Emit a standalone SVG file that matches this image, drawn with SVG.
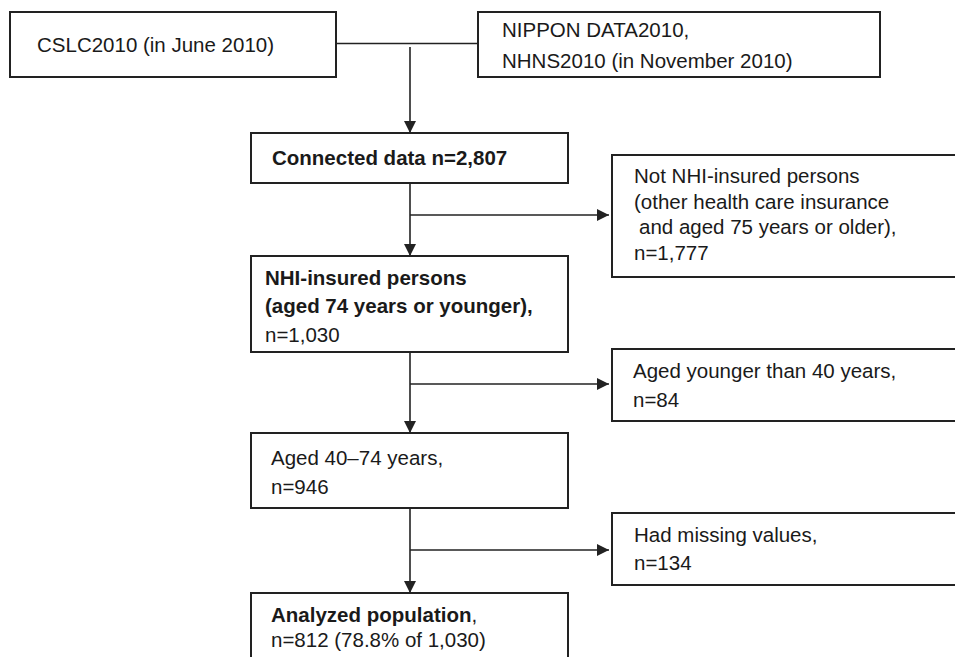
<svg xmlns="http://www.w3.org/2000/svg" width="955" height="657" viewBox="0 0 955 657">
<style>
.box{fill:#fff;stroke:#222;stroke-width:2}
.t{font-family:"Liberation Sans",Arial,sans-serif;font-size:20.5px;fill:#1a1a1a}
.b{font-weight:bold}
.ln{stroke:#222;stroke-width:1.6;fill:none}
</style>
<defs>
<marker id="ah" viewBox="0 0 12 12" refX="12" refY="6" markerWidth="12" markerHeight="12" markerUnits="userSpaceOnUse" orient="auto">
<path d="M0,0 L12,6 L0,12 Z" fill="#222"/>
</marker>
</defs>
<rect width="955" height="657" fill="#fff"/>
<g id="connectors">
<line class="ln" x1="336" y1="43.5" x2="478" y2="43.5"/>
<line class="ln" x1="410" y1="47" x2="410" y2="133" marker-end="url(#ah)"/>
<line class="ln" x1="410" y1="183" x2="410" y2="256" marker-end="url(#ah)"/>
<line class="ln" x1="410" y1="215" x2="609" y2="215" marker-end="url(#ah)"/>
<line class="ln" x1="410" y1="352" x2="410" y2="433" marker-end="url(#ah)"/>
<line class="ln" x1="410" y1="384" x2="609" y2="384" marker-end="url(#ah)"/>
<line class="ln" x1="410" y1="508" x2="410" y2="593" marker-end="url(#ah)"/>
<line class="ln" x1="410" y1="550" x2="609" y2="550" marker-end="url(#ah)"/>
</g>
<g id="cslc">
<rect class="box" x="10" y="12" width="326" height="65"/>
<text class="t" x="37" y="52">CSLC2010 (in June 2010)</text>
</g>
<g id="nippon">
<rect class="box" x="478" y="12" width="402" height="65"/>
<text class="t" x="502" y="37">NIPPON DATA2010,</text>
<text class="t" x="502" y="68">NHNS2010 (in November 2010)</text>
</g>
<g id="connected">
<rect class="box" x="251" y="133" width="317" height="50"/>
<text class="t b" x="272" y="165">Connected data n=2,807</text>
</g>
<g id="notnhi">
<rect class="box" x="612" y="155" width="350" height="122"/>
<text class="t" x="634" y="183">Not NHI-insured persons</text>
<text class="t" x="634" y="209">(other health care insurance</text>
<text class="t" x="639" y="234">and aged 75 years or older),</text>
<text class="t" x="634" y="260">n=1,777</text>
</g>
<g id="nhi">
<rect class="box" x="251" y="256" width="317" height="96"/>
<text class="t b" x="265" y="285">NHI-insured persons</text>
<text class="t b" x="265" y="313">(aged 74 years or younger),</text>
<text class="t" x="265" y="342">n=1,030</text>
</g>
<g id="younger">
<rect class="box" x="612" y="349" width="350" height="72"/>
<text class="t" x="633" y="378">Aged younger than 40 years,</text>
<text class="t" x="633" y="407">n=84</text>
</g>
<g id="aged">
<rect class="box" x="251" y="433" width="317" height="75"/>
<text class="t" x="271" y="465">Aged 40–74 years,</text>
<text class="t" x="271" y="494">n=946</text>
</g>
<g id="missing">
<rect class="box" x="612" y="513" width="350" height="72"/>
<text class="t" x="634" y="542">Had missing values,</text>
<text class="t" x="634" y="570">n=134</text>
</g>
<g id="analyzed">
<rect class="box" x="251" y="593" width="317" height="80"/>
<text class="t" x="271" y="622"><tspan class="b">Analyzed population</tspan>,</text>
<text class="t" x="271" y="647">n=812 (78.8% of 1,030)</text>
</g>
</svg>
